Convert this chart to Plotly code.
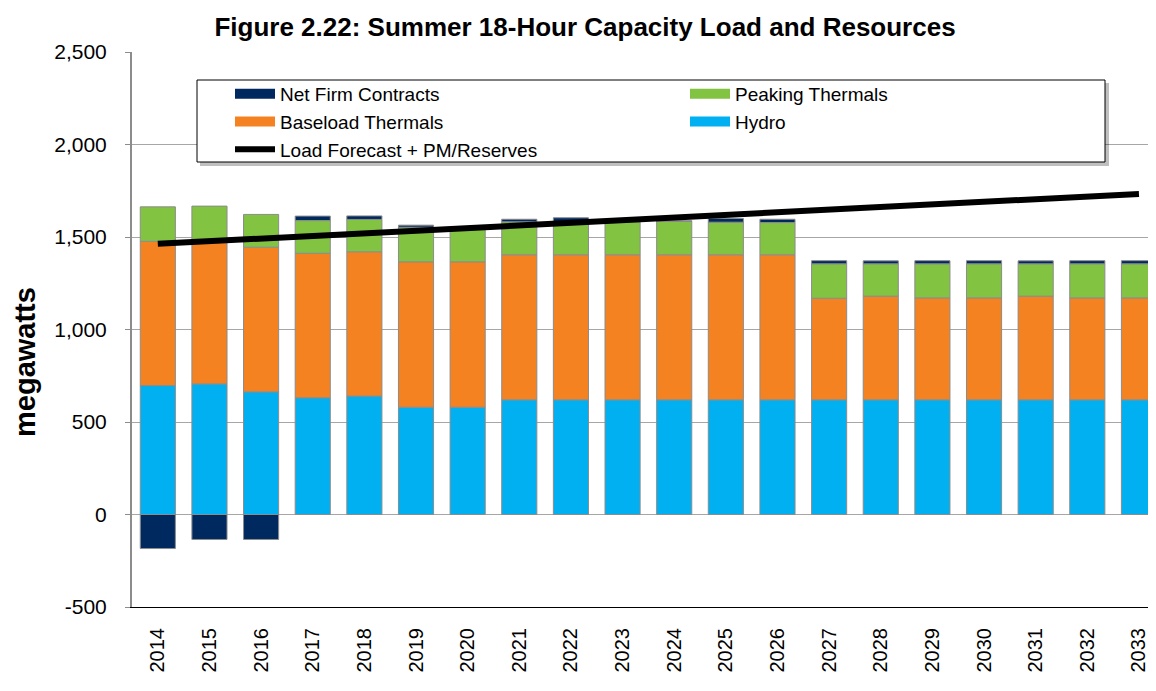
import plotly.graph_objects as go

years = [str(y) for y in range(2014, 2034)]
hydro = [697, 706, 663, 631, 640, 580, 580, 620, 620, 620, 620, 620, 620, 620, 620, 620, 620, 620, 620, 620]
baseload = [780, 764, 782, 781, 780, 786, 786, 784, 784, 784, 784, 784, 784, 549, 560, 551, 551, 560, 551, 551]
peaking = [186, 197, 177, 177, 175, 187, 178, 178, 178, 178, 180, 176, 174, 186, 175, 184, 184, 175, 184, 184]
net_firm = [-184, -135, -135, 24, 19, 11, 4, 14, 22, 5, 4, 20, 18, 17, 16, 17, 17, 16, 17, 17]
load = [1463, 1477, 1491, 1505, 1519, 1535, 1549, 1562, 1576, 1589, 1603, 1617, 1631, 1645, 1660, 1676, 1686, 1702, 1718, 1733]
y_ticks = [-500, 0, 500, 1000, 1500, 2000, 2500]
y_ticktext = ["-500", "0", "500", "1,000", "1,500", "2,000", "2,500"]

FONT = "Arial, Liberation Sans, sans-serif"
edge = dict(color="#8c8c8c", width=1)

series = [
    # name, values, colour, legend, rank
    ("Hydro", hydro, "#00B0F0", "legend2", 2),
    ("Baseload Thermals", baseload, "#F58220", "legend", 2),
    ("Peaking Thermals", peaking, "#82C341", "legend2", 1),
    ("Net Firm Contracts", net_firm, "#00295F", "legend", 1),
]

fig = go.Figure()
for name, vals, col, leg, rank in series:
    fig.add_trace(go.Bar(x=years, y=vals, name=name, marker=dict(color=col, line=edge),
                         legendgroup=name, showlegend=False))
for name, vals, col, leg, rank in series:
    # legend-only entry drawn as a wide swatch, linked to the bar trace by legendgroup
    fig.add_trace(go.Scatter(x=[None], y=[None], name=name, mode="lines", legendgroup=name,
                             line=dict(color=col, width=11), legend=leg, legendrank=rank,
                             hoverinfo="skip"))
fig.add_trace(go.Scatter(x=years, y=load, name="Load Forecast + PM/Reserves", mode="lines",
                         line=dict(color="black", width=6), legend="legend", legendrank=3))

# page offset of the figure (default body margin) and plot-area pixel mapping
OFF = 8
PL, PW, PB, PH = 132, 1024, 607, 555
def px(x):
    return (x - PL) / PW
def py(y):
    return (PB - y) / PH

bx0, bx1, by0, by1 = 197, 1105, 80, 162
fig.add_shape(type="rect", xref="paper", yref="paper", x0=px(bx0 + 3), x1=px(bx1 + 4),
              y0=py(by1 + 4), y1=py(by0 + 3), fillcolor="rgba(0,0,0,0.25)", line=dict(width=0), layer="above")
fig.add_shape(type="rect", xref="paper", yref="paper", x0=px(bx0), x1=px(bx1),
              y0=py(by1), y1=py(by0), fillcolor="white", line=dict(color="black", width=1), layer="above")

fig.add_annotation(text="<b>megawatts</b>", xref="paper", yref="paper", x=px(25), y=py(362),
                   xanchor="center", yanchor="middle", textangle=-90, showarrow=False,
                   font=dict(family=FONT, size=29, color="black"))

leg_common = dict(orientation="v", yanchor="top", xanchor="left", bgcolor="rgba(0,0,0,0)",
                  borderwidth=0, font=dict(family=FONT, size=19, color="black"),
                  traceorder="normal", itemwidth=40, tracegroupgap=0, groupclick="togglegroup")

fig.update_layout(
    width=1156, height=691,
    margin=dict(l=PL - OFF, r=OFF, t=52 - OFF, b=691 - (PB - OFF)),
    paper_bgcolor="white", plot_bgcolor="white",
    barmode="relative", bargap=0.32,
    font=dict(family=FONT, size=18, color="black"),
    title=dict(text="<b>Figure 2.22: Summer 18-Hour Capacity Load and Resources</b>",
               x=(585 - OFF) / 1156, xref="container", xanchor="center",
               y=1 - (27 - OFF) / 691, yanchor="middle",
               font=dict(family=FONT, size=26, color="black")),
    legend=dict(x=px(230), y=py(75), **leg_common),
    legend2=dict(x=px(685), y=py(75), **leg_common),
    xaxis=dict(type="category", range=[-0.5, 19.33], tickangle=-90, showgrid=False,
               showline=True, linecolor="black", linewidth=1, ticks="", ticklabelstandoff=12,
               tickfont=dict(family=FONT, size=20, color="black")),
    yaxis=dict(range=[-500, 2500], tickvals=y_ticks, ticktext=y_ticktext,
               showgrid=True, gridcolor="#a6a6a6", gridwidth=1,
               zeroline=True, zerolinecolor="#a6a6a6", zerolinewidth=1,
               showline=True, linecolor="#8c8c8c", linewidth=2, ticks="outside", ticklen=5,
               tickcolor="#8c8c8c", ticklabelstandoff=14,
               tickfont=dict(family=FONT, size=21, color="black")),
)

fig.write_html("out.html")
